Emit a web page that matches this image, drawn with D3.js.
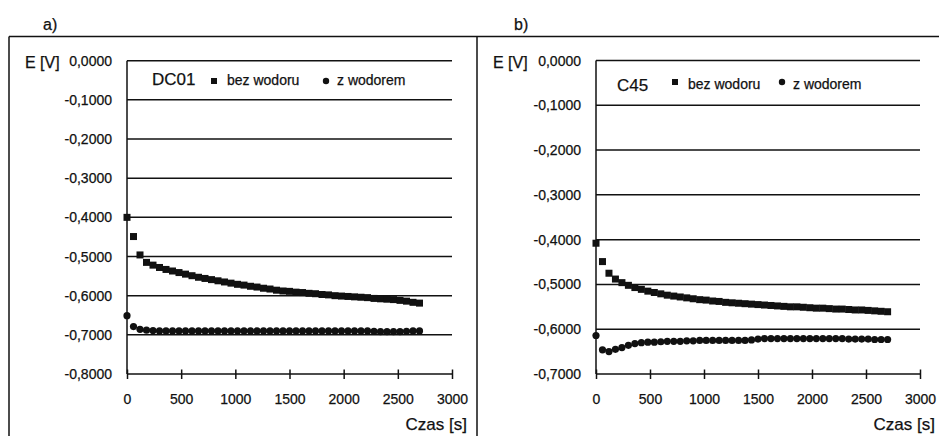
<!DOCTYPE html>
<html>
<head>
<meta charset="utf-8">
<script src="https://cdn.jsdelivr.net/npm/d3@7"></script>
<style>
  body { margin: 0; background: #fff; }
  svg { display: block; font-family: "Liberation Sans", Arial, sans-serif; }
  svg text { stroke: #111; stroke-width: 0.25px; }
</style>
</head>
<body>
<div id="chart"></div>
<script>
"use strict";

// measurement times [s]
var czas = [0, 60, 120, 180, 240, 300, 360, 420, 480, 540, 600, 660, 720, 780, 840, 900,
    960, 1020, 1080, 1140, 1200, 1260, 1320, 1380, 1440, 1500, 1560, 1620, 1680, 1740,
    1800, 1860, 1920, 1980, 2040, 2100, 2160, 2220, 2280, 2340, 2400, 2460, 2520, 2580,
    2640, 2700];

// a) DC01
var dc01Bez = [-0.400, -0.449, -0.496, -0.515, -0.522, -0.528, -0.533, -0.537, -0.541, -0.545,
    -0.549, -0.553, -0.556, -0.559, -0.562, -0.565, -0.568, -0.571, -0.573, -0.576,
    -0.578, -0.581, -0.583, -0.586, -0.588, -0.589, -0.591, -0.592, -0.594, -0.595,
    -0.597, -0.598, -0.600, -0.601, -0.602, -0.603, -0.604, -0.605, -0.607, -0.608,
    -0.609, -0.610, -0.612, -0.614, -0.617, -0.619];
var dc01Z = [-0.651, -0.679, -0.686, -0.688, -0.689, -0.690, -0.690, -0.690, -0.690, -0.690,
    -0.690, -0.690, -0.690, -0.690, -0.690, -0.690, -0.690, -0.690, -0.690, -0.690,
    -0.690, -0.690, -0.690, -0.690, -0.690, -0.690, -0.690, -0.690, -0.690, -0.690,
    -0.690, -0.690, -0.690, -0.690, -0.690, -0.690, -0.690, -0.690, -0.691, -0.692,
    -0.692, -0.692, -0.692, -0.691, -0.690, -0.690];

// b) C45
var c45Bez = [-0.408, -0.449, -0.475, -0.488, -0.496, -0.502, -0.507, -0.511, -0.515, -0.518,
    -0.521, -0.524, -0.526, -0.528, -0.530, -0.532, -0.534, -0.535, -0.537, -0.538,
    -0.540, -0.541, -0.542, -0.543, -0.544, -0.545, -0.546, -0.547, -0.548, -0.549,
    -0.550, -0.550, -0.551, -0.552, -0.553, -0.553, -0.554, -0.555, -0.555, -0.556,
    -0.557, -0.557, -0.558, -0.559, -0.560, -0.561];
var c45Z = [-0.614, -0.646, -0.650, -0.645, -0.641, -0.636, -0.632, -0.630, -0.629, -0.629,
    -0.628, -0.627, -0.627, -0.627, -0.626, -0.626, -0.625, -0.625, -0.625, -0.625,
    -0.625, -0.625, -0.625, -0.625, -0.624, -0.622, -0.621, -0.621, -0.621, -0.621,
    -0.621, -0.621, -0.621, -0.621, -0.621, -0.621, -0.621, -0.621, -0.621, -0.622,
    -0.622, -0.622, -0.622, -0.623, -0.623, -0.623];

var xTicks = [0, 500, 1000, 1500, 2000, 2500, 3000];
var yTicksA = [0, -0.1, -0.2, -0.3, -0.4, -0.5, -0.6, -0.7, -0.8];
var yTicksB = [0, -0.1, -0.2, -0.3, -0.4, -0.5, -0.6, -0.7];

var W = 939, H = 436;
var ink = "#111";

var svg = d3.select("#chart").append("svg")
    .attr("width", W)
    .attr("height", H);

// outer frame
svg.append("line").attr("x1", 9).attr("x2", W).attr("y1", 36.5).attr("y2", 36.5)
    .attr("stroke", ink).attr("stroke-width", 1.5);
[9, 477].forEach(function (x) {
    svg.append("line").attr("x1", x).attr("x2", x).attr("y1", 36.5).attr("y2", H)
        .attr("stroke", ink).attr("stroke-width", 1.5);
});

var panels = [
    { letter: "a)", letterX: 43, name: "DC01", bez: dc01Bez, z: dc01Z, yTicks: yTicksA,
      left: 127, right: 452, top: 60.7, bottom: 374, eX: 25,
      nameX: 152, nameY: 85, sqX: 214, sqY: 81, circX: 326, legY: 85 },
    { letter: "b)", letterX: 514, name: "C45", bez: c45Bez, z: c45Z, yTicks: yTicksB,
      left: 596, right: 920, top: 60.5, bottom: 374, eX: 493,
      nameX: 617, nameY: 91, sqX: 675, sqY: 82, circX: 782, legY: 89 }
];

var fmt = function (v) { return d3.format(".4f")(v).replace(".", ",").replace("−", "-"); };

panels.forEach(function (p) {
    var g = svg.append("g");

    var x = d3.scaleLinear().domain([0, 3000]).range([p.left, p.right]);
    var y = d3.scaleLinear().domain([d3.min(p.yTicks), 0]).range([p.bottom, p.top]);

    g.append("text").attr("x", p.letterX).attr("y", 30)
        .attr("font-size", 16).attr("fill", ink).text(p.letter);

    // horizontal gridlines
    g.selectAll(".grid").data(p.yTicks.slice(0, -1)).enter().append("line")
        .attr("x1", p.left).attr("x2", p.right)
        .attr("y1", function (d) { return y(d); }).attr("y2", function (d) { return y(d); })
        .attr("stroke", ink).attr("stroke-width", 1.5);

    // y tick labels
    g.selectAll(".ylab").data(p.yTicks).enter().append("text")
        .attr("x", p.left - 15)
        .attr("y", function (d) { return y(d); })
        .attr("dy", "0.36em")
        .attr("text-anchor", "end")
        .attr("font-size", 14).attr("fill", ink)
        .text(function (d) { return fmt(d); });

    g.append("text").attr("x", p.eX).attr("y", 67.5)
        .attr("font-size", 16).attr("fill", ink).text("E [V]");

    // y axis line
    g.append("line").attr("x1", p.left).attr("x2", p.left)
        .attr("y1", p.top).attr("y2", p.bottom)
        .attr("stroke", ink).attr("stroke-width", 1.5);

    // x axis
    var xAxis = d3.axisBottom(x).tickValues(xTicks).tickSize(0).tickFormat(d3.format("d"));
    var ax = g.append("g").attr("transform", "translate(0," + p.bottom + ")").call(xAxis);
    ax.select(".domain").attr("d", "M" + p.left + ",0H" + p.right)
        .attr("stroke", ink).attr("stroke-width", 1.5);
    ax.selectAll(".tick line").attr("y1", -4.5).attr("y2", 5)
        .attr("stroke", ink).attr("stroke-width", 1.5);
    ax.selectAll(".tick text").attr("y", 30).attr("dy", 0)
        .attr("font-size", 14).attr("font-family", "Liberation Sans, Arial, sans-serif")
        .attr("fill", ink);

    g.append("text").attr("x", p.right + 15).attr("y", 430)
        .attr("text-anchor", "end").attr("font-size", 17).attr("fill", ink).text("Czas [s]");

    // data: z wodorem (circles)
    g.selectAll(".pz").data(czas).enter().append("circle")
        .attr("cx", function (d) { return x(d); })
        .attr("cy", function (d, i) { return y(p.z[i]); })
        .attr("r", 3.6).attr("fill", ink);

    // data: bez wodoru (squares)
    var s = 7;
    g.selectAll(".pb").data(czas).enter().append("rect")
        .attr("x", function (d) { return x(d) - s / 2; })
        .attr("y", function (d, i) { return y(p.bez[i]) - s / 2; })
        .attr("width", s).attr("height", s).attr("fill", ink);

    // legend
    g.append("text").attr("x", p.nameX).attr("y", p.nameY)
        .attr("font-size", 17).attr("fill", ink).text(p.name);
    g.append("rect").attr("x", p.sqX - 3).attr("y", p.sqY - 3)
        .attr("width", 6).attr("height", 6).attr("fill", ink);
    g.append("text").attr("x", p.sqX + 13).attr("y", p.legY)
        .attr("font-size", 14).attr("fill", ink).text("bez wodoru");
    g.append("circle").attr("cx", p.circX).attr("cy", p.sqY).attr("r", 3.2).attr("fill", ink);
    g.append("text").attr("x", p.circX + 11).attr("y", p.legY)
        .attr("font-size", 14).attr("fill", ink).text("z wodorem");
});
</script>
</body>
</html>
